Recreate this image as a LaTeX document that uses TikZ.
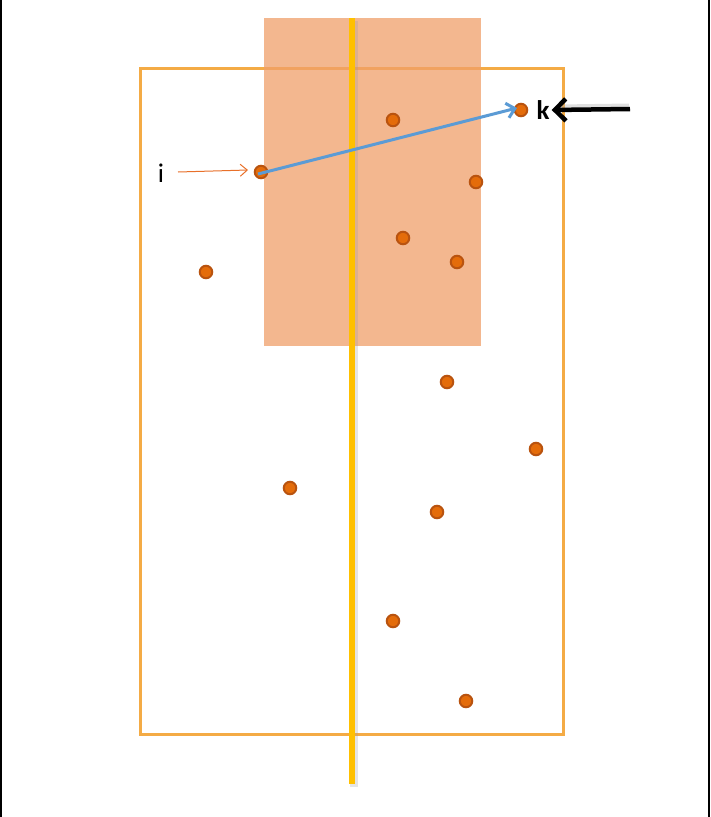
\documentclass[tikz,border=0pt]{standalone}
\usepackage{fontspec}
\setmainfont{Carlito}
\usetikzlibrary{arrows.meta}
\definecolor{boxorange}{HTML}{F4AB45}
\definecolor{salmon}{HTML}{F0A06A}
\definecolor{goldline}{HTML}{FFC000}
\definecolor{dotfill}{HTML}{E46C0A}
\definecolor{dotedge}{HTML}{B9530F}
\definecolor{bluearrow}{HTML}{5B9BD5}
\definecolor{thinorange}{HTML}{E8702A}
\tikzset{
  pt/.style={circle, fill=dotfill, draw=dotedge, line width=2pt, minimum size=12.5pt, inner sep=0pt},
  lbl/.style={font=\fontsize{27}{30}\selectfont, inner sep=0pt, anchor=center},
}
\begin{document}
\begin{tikzpicture}[x=1pt,y=-1pt]
\useasboundingbox (0,0) rectangle (710,817);
\fill[white] (0,0) rectangle (710,817);
% side borders
\draw[black, line width=2.2pt] (1,0) -- (1,817);
\draw[black, line width=2.2pt] (709,0) -- (709,817);
% outer box
\draw[boxorange, line width=3pt] (140,68) rectangle (563,734);
% salmon region
\fill[salmon, fill opacity=0.75] (264,18) rectangle (481,346);
% vertical gold line with shadow
\draw[black!40, opacity=0.25, line width=8pt] (353.5,21) -- (353.5,787);
\draw[goldline, line width=5.5pt] (352,18) -- (352,784);
% points
\node[pt] (p1) at (393,120) {};
\node[pt] (k) at (521,110) {};
\node[pt] (i) at (261,172) {};
\node[pt] (p3) at (476,182) {};
\node[pt] (p4) at (403,238) {};
\node[pt] (p5) at (457,262) {};
\node[pt] (p6) at (206,272) {};
\node[pt] (p7) at (447,382) {};
\node[pt] (p8) at (536,449) {};
\node[pt] (p9) at (290,488) {};
\node[pt] (p10) at (437,512) {};
\node[pt] (p11) at (393,621) {};
\node[pt] (p12) at (466,701) {};
% labels
\node[lbl] (ilbl) at (161,173) {i};
\node[lbl, font=\fontsize{27}{30}\selectfont\bfseries] (klbl) at (543,110) {k};
% thin arrow to i
\coordinate (ifrom) at (178,172);
\draw[thinorange, line width=1pt, -{Straight Barb[length=7pt,width=12pt]}] (ifrom) -- ([xshift=-13pt,yshift=2pt]i.center);
% blue arrow i -> k
\draw[bluearrow, line width=3pt, -{Straight Barb[length=8pt,width=15pt]}] ([xshift=-3pt,yshift=-2pt]i.center) -- ([xshift=-4pt,yshift=2pt]k.center);
% black arrow to k
\coordinate (kfrom) at (630,109);
\draw[black!30, opacity=0.4, line width=5pt] ([xshift=-1pt,yshift=3pt]kfrom) -- ([xshift=10pt,yshift=3pt]klbl.east);
\draw[black, line width=4.5pt, -{Straight Barb[length=11pt,width=22pt]}] (kfrom) -- ([xshift=2pt]klbl.east);
\end{tikzpicture}
\end{document}
